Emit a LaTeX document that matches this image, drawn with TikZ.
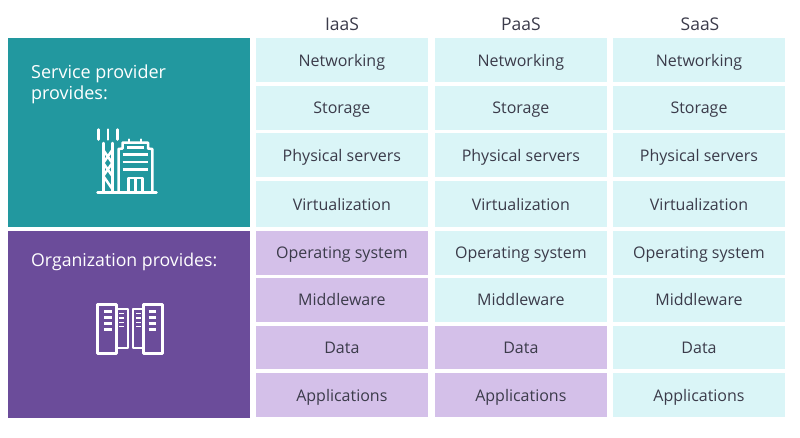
\documentclass[tikz,border=0pt]{standalone}
\usepackage{fontspec}
\setmainfont{Open Sans}
\definecolor{tealpanel}{HTML}{22989F}
\definecolor{purplepanel}{HTML}{6B4C9A}
\definecolor{tealcell}{HTML}{DAF5F7}
\definecolor{purplecell}{HTML}{D4C0E9}
\definecolor{celltext}{HTML}{3B3B4A}
\tikzset{
	cell/.style={inner sep=0pt, anchor=base, text=celltext, font=\fontsize{16}{18}\selectfont},
	heading/.style={inner sep=0pt, anchor=base, text=celltext, font=\fontsize{17.5}{19}\selectfont},
	panel/.style={inner sep=0pt, anchor=north west, align=left, text=white, font=\fontsize{18}{21}\selectfont},
	icon/.style={draw=white, line width=2.5pt, line cap=round, line join=round},
	iconbar/.style={draw=white, line width=2.4pt}
}
\begin{document}
\begin{tikzpicture}[x=1pt,y=-1pt]
	\useasboundingbox (0,0) rectangle (800,437);

	% left panels
	\fill[tealpanel] (7.5,38) rectangle (250,227);
	\fill[purplepanel] (7.5,231) rectangle (250,417.5);
	\node[panel] (provider) at (31,64.5) {Service provider\\provides:};
	\node[panel, font=\fontsize{17.7}{21}\selectfont] (organization) at (31,252.5) {Organization provides:};

	% headings
	\node[heading] (iaas) at (342,30) {IaaS};
	\node[heading] (paas) at (521,30) {PaaS};
	\node[heading] (saas) at (700,30) {SaaS};

	% cells: column, left, right, first purple row
	\foreach \col/\xa/\xb/\first in {iaascol/256/427.7/5, paascol/435/606.7/7, saascol/613/785/9} {
		\foreach \ya/\yb/\row/\txt in {38/82/1/Networking, 85.7/130/2/Storage, 133/177.3/3/Physical servers,
			181/227/4/Virtualization, 230.7/274.5/5/Operating system, 277.5/321.5/6/Middleware,
			325.7/369/7/Data, 373.3/417/8/Applications} {
			\ifnum\row<\first
				\fill[tealcell] (\xa,\ya) rectangle (\xb,\yb);
			\else
				\fill[purplecell] (\xa,\ya) rectangle (\xb,\yb);
			\fi
			\node[cell] (\col\row) at ({(\xa+\xb)/2},{(\ya+\yb)/2+6}) {\txt};
		}
	}

	% building icon
	\draw[icon] (98.7,129.5) -- (98.7,139.5);
	\draw[icon] (108,129.5) -- (108,139.5);
	\draw[icon] (117.3,129.5) -- (117.3,139.5);
	\draw[icon] (103.3,143) -- (103.3,192);
	\draw[icon] (112.3,143) -- (112.3,192);
	\draw[icon] (103.3,150) -- (112.3,163) -- (103.3,176) -- (112.3,189);
	\draw[icon] (112.3,150) -- (103.3,163) -- (112.3,176);
	\draw[icon] (97.5,192.5) -- (156.5,192.5);
	\draw[icon] (118.5,192) -- (118.5,149) -- (122.5,148.5) -- (122.5,142.5) -- (148,142.5) -- (148,148.5) -- (152.3,149) -- (152.3,192);
	\draw[icon] (129,139.5) -- (129,142);
	\draw[icon] (141,139.5) -- (141,142);
	\draw[iconbar] (127,147.5) -- (143.5,147.5);
	\draw[iconbar] (122.5,154.5) -- (148,154.5);
	\draw[iconbar] (122.5,161.7) -- (148,161.7);
	\draw[iconbar] (122.5,169.3) -- (148,169.3);
	\draw[icon] (128.5,192) -- (128.5,178) -- (142.5,178) -- (142.5,192);
	\draw[iconbar] (135.5,178) -- (135.5,192);

	% server icon
	\draw[icon, line width=2.6pt] (97.7,304.3) rectangle (116.7,353.3);
	\draw[icon, line width=2.6pt] (143.3,304.3) rectangle (162.3,353.3);
	\draw[icon, line width=1.9pt] (116.7,309.3) -- (127.7,309.3) -- (127.7,348.3) -- (116.7,348.3);
	\draw[icon, line width=1.9pt] (143.3,309.3) -- (132.7,309.3) -- (132.7,348.3) -- (143.3,348.3);
	\foreach \y in {311.3,317.7,323.7,329.7} {
		\draw[iconbar, line width=2.6pt] (104.3,\y) -- (112.3,\y);
		\draw[iconbar, line width=2.6pt] (148.7,\y) -- (156,\y);
	}
	\foreach \y in {313.7,318,322.3,326.7} {
		\draw[iconbar, line width=1.5pt] (119.3,\y) -- (124,\y);
		\draw[iconbar, line width=1.5pt] (136,\y) -- (141,\y);
	}
\end{tikzpicture}
\end{document}
